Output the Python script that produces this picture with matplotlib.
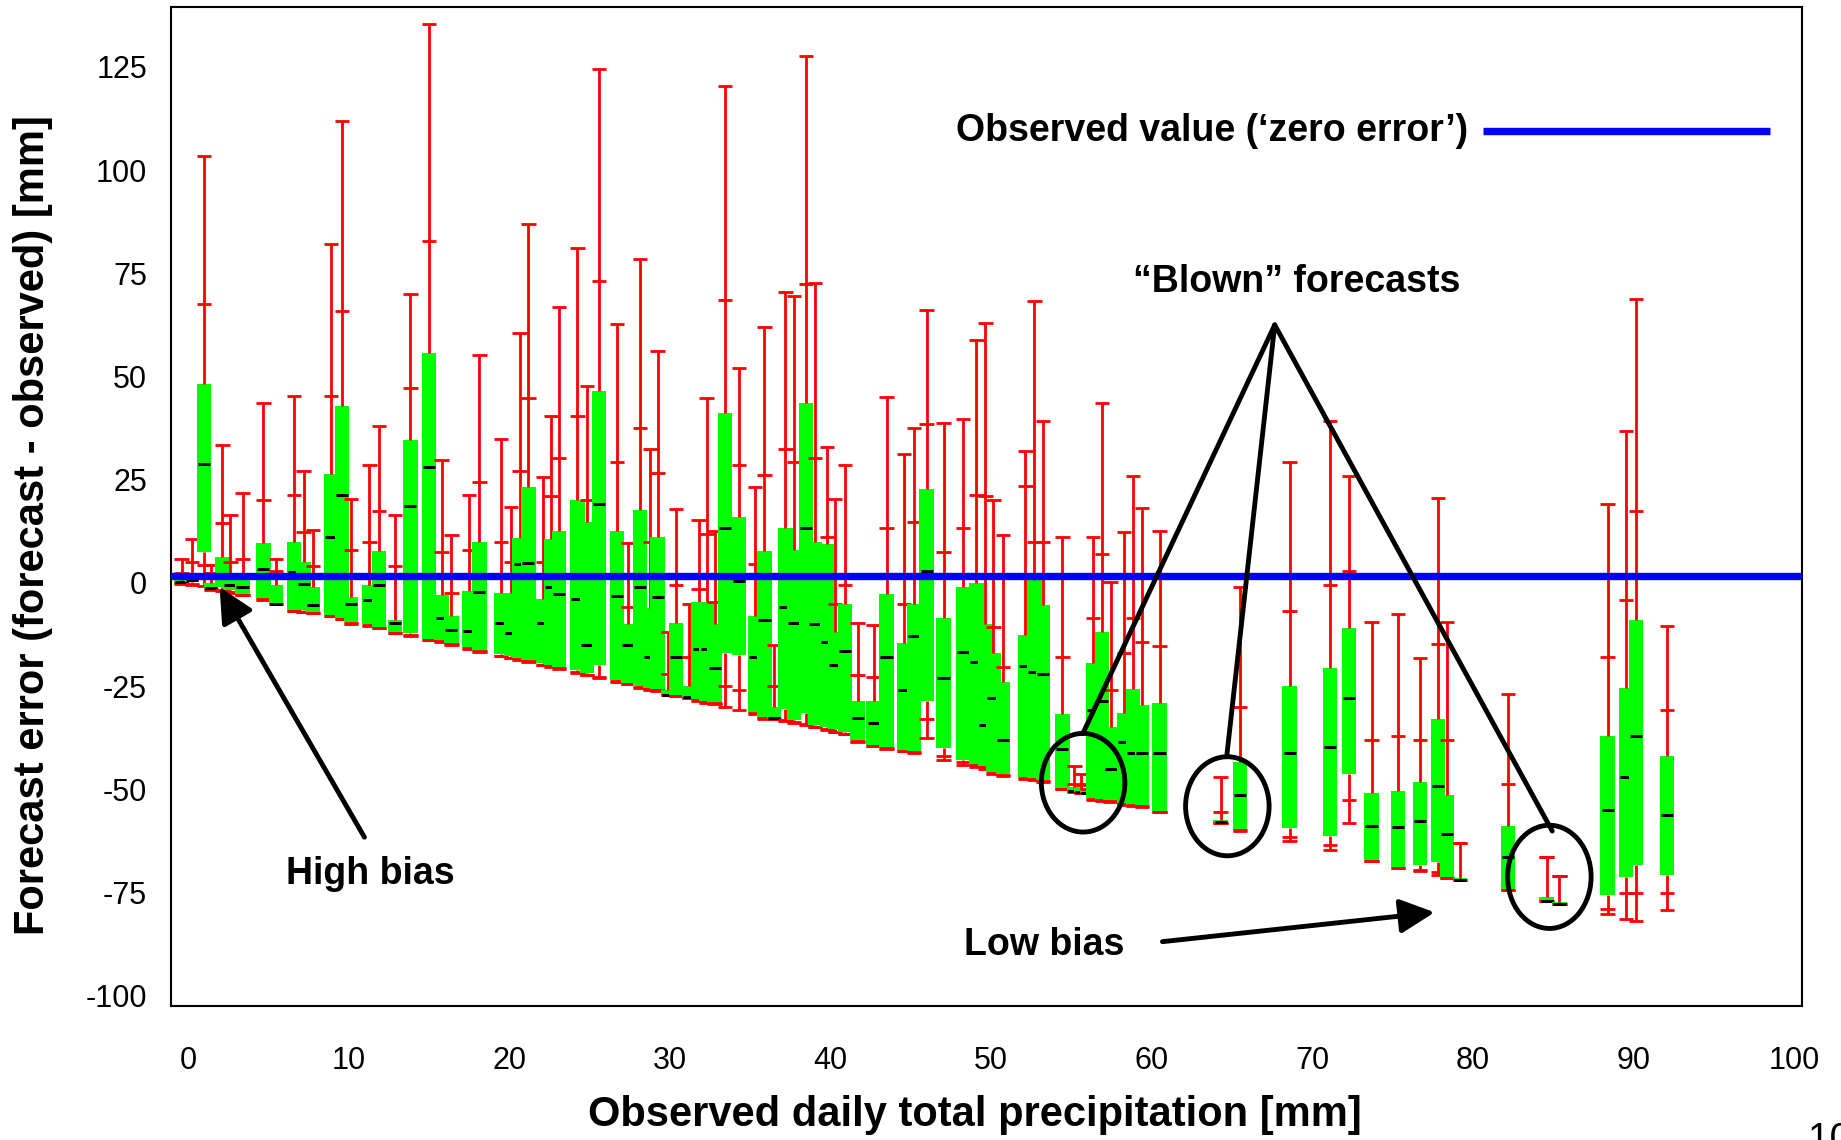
import matplotlib
matplotlib.use('Agg')
import matplotlib.pyplot as plt
from matplotlib.patches import Ellipse

plt.rcParams['font.family'] = ['Liberation Sans', 'DejaVu Sans']

# Observed precipitation (box positions) and forecast error statistics [mm]
pos = [-0.4, 0.25, 1.0, 1.45, 2.15, 2.65, 3.4, 4.7, 5.5, 6.6, 7.2, 7.8, 8.9, 9.6, 10.15,
       11.3, 11.9, 12.9, 13.85, 15.0, 15.8, 16.4, 17.5, 18.15, 19.5, 20.1, 20.65, 21.2,
       22.1, 22.6, 23.1, 24.25, 24.85, 25.6, 26.7, 27.4, 28.15, 28.8, 29.25, 29.9, 30.4,
       31.2, 31.8, 32.3, 32.8, 33.45, 34.3, 35.3, 35.9, 36.5, 37.2, 37.75, 38.5, 39.05,
       39.8, 40.3, 40.9, 41.7, 42.7, 43.5, 44.6, 45.2, 46.0, 47.05, 48.25, 49.1, 49.65,
       50.15, 50.75, 52.15, 52.7, 53.25, 54.45, 55.2, 55.6, 56.0, 56.35, 56.9, 57.45,
       58.3, 58.85, 59.4, 60.5, 64.3, 65.5, 68.6, 71.1, 72.3, 73.7, 75.35, 76.7, 77.85,
       78.4, 79.2, 82.2, 84.6, 85.4, 88.4, 89.55, 90.15, 92.1]
wmin = [-0.2, -0.4, -0.8, -1.6, -1.9, -2.4, -3.0, -4.2, -5.1, -6.7, -7.0, -7.4, -8.0, -8.8, -9.9,
        -10.4, -10.9, -12.2, -12.8, -13.9, -14.3, -15.0, -16.0, -16.8, -17.8, -18.2, -18.6, -19.1,
        -19.9, -20.3, -20.8, -21.8, -22.4, -23.1, -24.0, -24.6, -25.4, -25.9, -26.3, -27.2, -27.4,
        -27.9, -28.5, -29.0, -29.4, -30.0, -30.8, -31.7, -32.9, -33.0, -33.5, -34.0, -34.5, -35.0,
        -35.7, -36.2, -36.7, -38.5, -39.5, -40.2, -40.8, -41.2, -37.5, -43.0, -44.0, -44.5, -45.0,
        -46.3, -46.8, -47.5, -47.8, -48.2, -50.0, -50.6, -50.8, -51.0, -52.5, -52.8, -53.0,
        -53.8, -54.0, -54.2, -55.5, -58.2, -60.0, -62.4, -64.6, -58.1, -67.3, -69.0, -69.9, -70.7,
        -71.6, -72.0, -74.5, -77.0, -77.7, -80.3, -81.4, -81.9, -79.3]
p10 = [0.0, -0.2, 4.3, -1.5, -1.7, -2.2, -2.9, -4.0, -5.1, -6.7, -7.0, -7.3, -7.9, -8.7, -9.8,
       -10.3, -10.8, -12.1, -12.6, -13.8, -14.1, -14.8, -15.8, -16.6, -17.6, -18.1, -18.5, -19.0,
       -19.8, -20.2, -20.6, -21.5, -22.2, -22.8, -23.8, -24.4, -25.2, -25.7, -26.0, -27.2, -27.3,
       -27.9, -28.3, -28.8, -29.2, -25.0, -26.0, -31.6, -32.8, -33.0, -33.2, -33.7, -34.2, -34.8,
       -35.4, -36.0, -36.5, -38.3, -39.4, -40.0, -40.6, -41.0, -33.0, -42.0, -43.5, -44.2, -44.7,
       -46.0, -46.5, -47.2, -47.5, -48.0, -49.9, -50.5, -50.8, -51.0, -52.3, -52.6, -52.8,
       -53.6, -53.9, -54.0, -55.4, -58.1, -59.9, -61.5, -63.5, -52.5, -67.3, -69.0, -69.5, -70.0,
       -71.6, -72.0, -74.5, -77.0, -77.7, -79.0, -75.0, -75.0, -75.0]
q1 = [0.1, 0.3, 7.5, -1.4, -1.0, -1.8, -2.6, -3.8, -5.0, -6.6, -6.6, -7.2, -7.8, -8.6, -9.5,
      -10.0, -10.6, -12.0, -12.2, -13.5, -13.9, -14.5, -15.5, -16.4, -17.2, -17.8, -18.3, -18.7,
      -19.5, -19.9, -20.3, -21.2, -21.8, -20.0, -23.5, -24.2, -25.0, -25.4, -25.8, -27.2, -27.2,
      -27.8, -28.0, -28.5, -29.0, -17.0, -17.5, -31.6, -32.8, -32.9, -30.5, -33.3, -31.6, -34.5,
      -35.0, -35.5, -36.2, -38.1, -39.3, -39.9, -40.4, -40.8, -28.7, -40.0, -43.0, -44.0, -44.3,
      -45.8, -46.2, -47.0, -47.2, -47.8, -49.9, -50.5, -50.7, -51.0, -52.0, -52.5, -52.6,
      -53.4, -53.8, -53.8, -55.3, -58.1, -59.8, -59.4, -61.4, -46.4, -67.2, -68.9, -68.4, -67.5,
      -71.6, -72.0, -74.5, -77.0, -77.7, -75.5, -71.3, -68.4, -70.7]
med = [0.3, 0.6, 28.7, -1.3, 1.5, -0.5, -0.9, 3.3, -5.0, 2.7, -0.3, -5.4, 11.2, 21.3, -5.0,
       -4.2, -0.5, -9.6, 18.6, 28.2, -8.6, -11.4, -11.6, -2.1, -9.7, -12.2, 4.7, 4.8,
       -9.7, -1.1, -2.6, -3.8, -15.0, 19.2, -3.1, -15.0, -0.9, -18.0, -3.4, -27.2, -17.9,
       -27.6, -16.0, -16.0, -20.5, 13.3, 0.4, -17.9, -9.0, -32.8, -5.8, -9.6, 13.3, -9.9,
       -14.3, -20.0, -16.4, -32.8, -34.0, -17.9, -26.0, -12.8, 2.8, -23.1, -16.8, -19.1, -34.4,
       -27.8, -38.1, -20.1, -21.6, -22.0, -40.3, -50.3, -50.6, -50.9, -30.7, -28.6, -45.0,
       -38.6, -41.3, -41.2, -41.2, -58.0, -51.4, -41.2, -39.7, -27.8, -58.8, -59.2, -57.7, -49.2,
       -60.9, -72.0, -66.3, -77.0, -77.7, -55.1, -47.1, -37.1, -56.1]
q3 = [0.8, 1.5, 48.3, 0.0, 6.3, 2.0, 2.0, 9.7, -0.5, 9.8, 5.1, -1.0, 26.5, 42.8, -3.3,
      -0.5, 7.8, -9.0, 34.6, 55.7, -3.0, -8.0, -2.0, 9.8, -2.4, -2.5, 11.0, 23.3,
      -4.0, 10.6, 12.6, 20.2, 14.8, 46.5, 12.6, -10.0, 17.7, -6.0, 11.2, -26.0, -9.6,
      -25.0, -4.6, -4.6, -10.0, 41.2, 15.9, -8.1, 7.7, -30.0, 13.3, 8.0, 43.5, 10.0,
      9.5, -12.0, -5.2, -28.7, -28.7, -2.6, -14.6, -5.0, 22.7, -8.6, -1.0, 0.0, -10.0,
      -17.0, -24.0, -12.7, 0.7, -5.4, -31.8, -49.5, -50.0, -50.5, -19.3, -11.8, -35.0,
      -31.4, -25.8, -29.6, -29.0, -57.5, -43.5, -24.9, -20.6, -11.0, -50.8, -50.3, -48.3, -32.9,
      -51.3, -71.5, -58.8, -76.0, -77.2, -37.1, -25.5, -9.1, -42.0]
p90 = [2.5, 5.0, 67.5, 2.5, 14.4, 5.0, 5.8, 20.2, 3.0, 21.3, 12.4, 4.0, 45.2, 65.8, 8.0,
       10.0, 17.4, 4.0, 47.3, 82.8, 7.4, -2.5, 8.0, 24.5, 9.8, 5.0, 27.0, 44.7,
       5.0, 21.0, 30.2, 40.4, 20.0, 73.2, 29.4, -5.8, 37.6, 10.0, 26.7, -22.0, -0.5,
       -18.0, -1.5, 11.8, -4.6, 68.5, 28.6, 4.6, 26.1, -25.0, 32.4, 29.4, 72.3, 30.2,
       11.2, -5.0, -0.5, -22.2, -22.8, 13.3, -5.0, 14.8, 38.6, 7.4, 13.4, 21.3, 21.0,
       -10.6, -20.3, 23.5, 10.0, 10.0, -17.9, -48.6, -49.0, -50.0, -8.6, 7.0, -26.0,
       -16.9, -8.4, -14.3, -15.4, -55.5, -30.1, -6.9, -0.4, 2.8, -38.1, -37.1, -38.0, -14.8,
       -38.0, -63.1, -48.7, -66.3, -71.0, -18.0, -4.1, 17.5, -30.8]
wmax = [5.9, 10.6, 103.5, 4.3, 33.4, 16.4, 21.7, 43.5, 5.8, 45.2, 27.2, 12.8, 82.2, 111.9, 20.3,
        28.6, 38.0, 16.4, 69.9, 135.3, 29.8, 11.6, 21.3, 55.2, 34.9, 18.5, 60.5, 86.9,
        25.7, 40.4, 66.8, 81.1, 47.6, 124.6, 62.7, 9.7, 78.5, 32.4, 56.2, -12.0, 18.0,
        -5.0, 15.3, 44.7, 12.6, 120.4, 52.0, 23.3, 62.0, -15.0, 70.5, 69.5, 127.7, 72.6,
        32.9, 20.3, 28.6, -9.6, -10.3, 45.0, 31.2, 37.6, 66.2, 38.7, 39.8, 58.8, 63.0,
        20.2, 11.7, 31.9, 68.3, 39.2, 11.2, -44.3, -46.4, -48.6, 11.2, 43.5, 0.3,
        12.4, 26.0, 18.1, 12.6, -47.1, -1.0, 29.3, 39.2, 26.0, -9.5, -7.5, -18.2, 20.6,
        -9.4, -63.1, -27.0, -66.3, -71.0, 19.0, 36.7, 68.9, -10.5]

xticks = list(range(0, 101, 10))
yticks = list(range(-100, 126, 25))

fig = plt.figure(figsize=(18.41, 11.40), dpi=100)
ax = fig.add_axes([0.0931, 0.1175, 0.8857, 0.8763])
ax.set_xlim(-1.03, 100.5)
ax.set_ylim(-102.5, 139.5)

W = 0.9
for i in range(len(pos)):
    z = 2 + i * 0.001
    x = pos[i]
    ax.bar(x, q3[i] - q1[i], bottom=q1[i], width=W, color='#00ff00',
           edgecolor='none', linewidth=0, zorder=z)
    ax.vlines([x, x], [q3[i], wmin[i]], [wmax[i], q1[i]], colors='#ff0000',
              linewidth=2.0, zorder=z)
    ax.hlines([wmax[i], p90[i], p10[i], wmin[i]], x - W / 2, x + W / 2,
              colors='#ff0000', linewidth=2.0, zorder=z)
    ax.hlines(med[i], x - W * 0.42, x + W * 0.42, colors='black', linewidth=2.2, zorder=z)

# zero-error line
ax.axhline(1.6, color='#0000ff', linewidth=5.3, zorder=10)
ax.text(79.7, 109.4, 'Observed value (\u2018zero error\u2019)', ha='right', va='center',
        fontsize=27, fontweight='bold', zorder=11)
ax.plot([80.65, 98.5], [109.4, 109.4], color='#0000ff', linewidth=5.3, zorder=11,
        solid_capstyle='butt')

# annotations
arrow_kw = dict(arrowstyle='-|>,head_length=0.85,head_width=0.42', color='black',
                lw=3.5, mutation_scale=25, shrinkA=0, shrinkB=0)
ax.text(11.33, -70.4, 'High bias', ha='center', va='center', fontsize=27,
        fontweight='bold', zorder=11)
ax.annotate('', xy=(1.97, -1.0), xytext=(10.99, -61.6), arrowprops=arrow_kw, zorder=11)
ax.text(53.3, -87.8, 'Low bias', ha='center', va='center', fontsize=27,
        fontweight='bold', zorder=11)
ax.annotate('', xy=(77.63, -79.8), xytext=(60.68, -86.9), arrowprops=arrow_kw, zorder=11)

ax.text(69.06, 72.8, '\u201cBlown\u201d forecasts', ha='center', va='center', fontsize=27,
        fontweight='bold', zorder=11)
apex = (67.67, 62.5)
for (ex, ey) in [(55.72, -36.5), (64.68, -42.1), (84.95, -60.1)]:
    ax.plot([apex[0], ex], [apex[1], ey], color='black', linewidth=3.5, zorder=11,
            solid_capstyle='round')
for (cx, cy, h) in [(55.74, -48.4, 23.9), (64.72, -54.1, 24.0), (84.77, -71.2, 25.0)]:
    ax.add_patch(Ellipse((cx, cy), 5.2, h, fill=False, edgecolor='black',
                         linewidth=3.5, zorder=11))

ax.set_xticks(xticks)
ax.set_yticks(yticks)
ax.set_xticklabels([str(t) for t in xticks])
ax.set_yticklabels([str(t) for t in yticks])
ax.tick_params(axis='both', length=0, labelsize=22)
ax.tick_params(axis='x', pad=29)
ax.tick_params(axis='y', pad=17.5)
for s in ax.spines.values():
    s.set_linewidth(1.5)
    s.set_color('black')

fig.text(974.5 / 1841, 1 - 1115.4 / 1140, 'Observed daily total precipitation [mm]',
         ha='center', va='center', fontsize=30, fontweight='bold')
fig.text(33 / 1841, 1 - 525.4 / 1140, 'Forecast error (forecast - observed) [mm]',
         ha='center', va='center', rotation=90, fontsize=30, fontweight='bold')
fig.text(1808 / 1841, 1 - 1122 / 1140, '10', ha='left', va='top', fontsize=28)

fig.savefig('out.png', dpi=100)
